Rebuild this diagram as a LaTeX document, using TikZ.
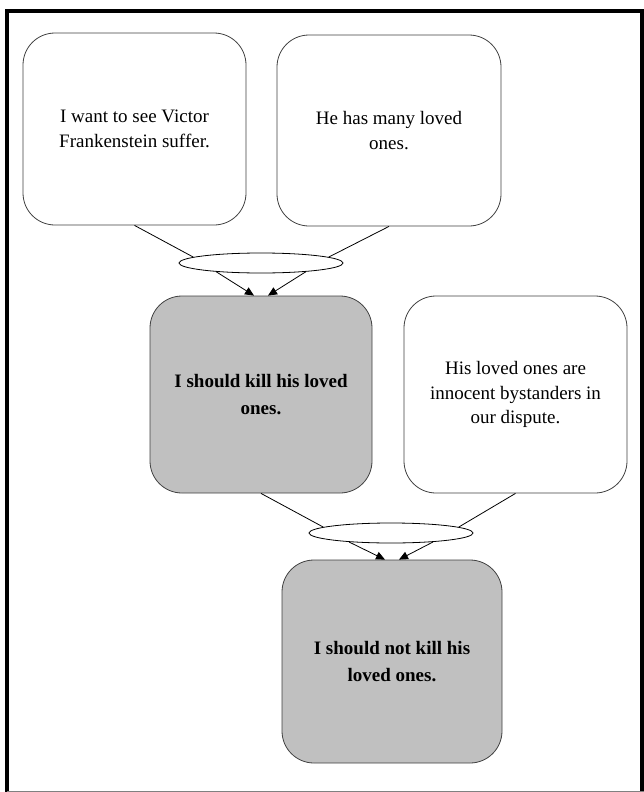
\documentclass[tikz,border=0pt]{standalone}
\usepackage{fontspec}
\setmainfont{Liberation Serif}
\usetikzlibrary{shapes.geometric,arrows.meta}
\definecolor{boxgray}{RGB}{192,192,192}
\definecolor{edgegray}{RGB}{64,64,64}
\begin{document}
\begin{tikzpicture}[x=1pt,y=-1pt,line width=0.8pt,claim/.style={shape=rectangle,rounded corners=32pt,draw=edgegray,fill=white,minimum width=222pt,minimum height=194pt,inner sep=0pt,align=center,font=\fontsize{19}{24.5}\selectfont},claimG/.style={claim,fill=boxgray,font=\fontsize{19}{27}\selectfont\bfseries},linkE/.style={shape=ellipse,draw=black,fill=white,minimum width=164pt,minimum height=20pt,inner sep=0pt},infer/.style={-{Triangle[length=9pt,width=8pt]}}]
\useasboundingbox (0,0) rectangle (644,792);
\draw[line width=4pt] (7,11) rectangle (641.5,800);
\draw[gray,line width=1pt] (7,791) -- (644,791);

\node[claim,minimum height=192pt,minimum width=223pt] (want) at (134.5,129) {I want to see Victor\\Frankenstein suffer.};
\node[claim,minimum height=191pt,minimum width=224pt] (many) at (389,130.5) {He has many loved\\ones.};
\node[claimG,minimum height=197pt] (kill) at (261,394.5) {I should kill his loved\\ones.};
\node[claim,minimum height=197pt,minimum width=223pt] (innocent) at (515.5,394.5) {His loved ones are\\innocent bystanders in\\our dispute.};
\node[claimG,minimum height=203pt,minimum width=220pt] (notkill) at (392,661.5) {I should not kill his\\loved ones.};

\node[linkE] (j1) at (261,263) {};
\node[linkE] (j2) at (391,533) {};

\draw (want.south) -- (j1.175);
\draw (many.south) -- (j1.5);
\draw[infer] (j1.191) -- ([xshift=-7pt]kill.north);
\draw[infer] (j1.349) -- ([xshift=7pt]kill.north);

\draw (kill.south) -- (j2.175);
\draw (innocent.south) -- (j2.5);
\draw[infer] (j2.192) -- ([xshift=-7pt]notkill.north);
\draw[infer] (j2.348) -- ([xshift=7pt]notkill.north);
\end{tikzpicture}
\end{document}
